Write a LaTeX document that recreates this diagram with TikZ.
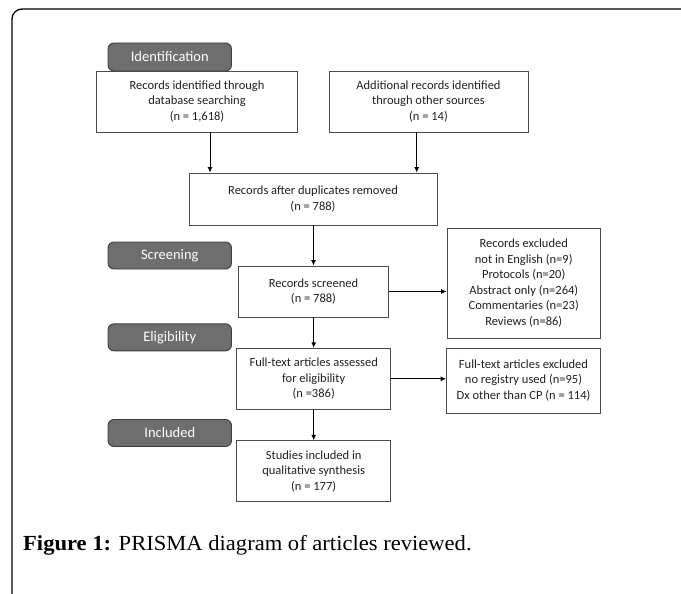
\documentclass[tikz,border=0pt]{standalone}
\usepackage{fontspec}
\setmainfont{Liberation Serif}
\newfontfamily\boxfont{Carlito}
\newfontfamily\capfont[FakeStretch=1.05]{Liberation Serif}
\usetikzlibrary{arrows.meta}
\definecolor{tabgray}{HTML}{6E6E6E}
\definecolor{tabedge}{HTML}{3C3C3C}
\definecolor{boxedge}{HTML}{4A4A4A}
\definecolor{txt}{HTML}{222222}
\tikzset{
  flowbox/.style={draw=boxedge, line width=0.9pt, fill=white, align=center, inner sep=2pt,
    font=\boxfont\fontsize{12.5}{15.5}\selectfont, text=txt},
  phasetab/.style={draw=tabedge, line width=0.9pt, fill=tabgray, rounded corners=6pt,
    minimum width=123.5pt, text=white, font=\boxfont\fontsize{14.5}{16}\selectfont},
  arr/.style={draw=black, line width=0.9pt, -{Latex[length=5.5pt,width=5pt]}}
}
\begin{document}
\begin{tikzpicture}[x=1pt,y=-1pt]
\useasboundingbox (0,0) rectangle (681,594);
% outer frame
\draw[line width=1.3pt, rounded corners=10pt] (12,594) -- (12,9) -- (690,9);
% phase tabs
\node[phasetab, minimum height=28pt] (tid) at (169.75,57) {Identification};
\node[phasetab, minimum height=27pt] (tsc) at (169.75,255.5) {Screening};
\node[phasetab, minimum height=27pt] (tel) at (169.75,337.3) {Eligibility};
\node[phasetab, minimum height=27pt] (tin) at (169.75,433) {Included};
% boxes
\node[flowbox, minimum width=201pt, minimum height=61pt] (b1) at (197,101.5)
  {Records identified through\\database searching\\(n = 1,618)};
\node[flowbox, minimum width=199pt, minimum height=61pt] (b2) at (428.5,101.5)
  {Additional records identified\\through other sources\\(n = 14)};
\node[flowbox, minimum width=248pt, minimum height=52pt] (b3) at (313,199)
  {Records after duplicates removed\\(n = 788)};
\node[flowbox, minimum width=150pt, minimum height=51pt] (b4) at (313.5,291.5)
  {Records screened\\(n = 788)};
\node[flowbox, minimum width=153.5pt, minimum height=110pt] (e1) at (523.75,283)
  {Records excluded\\not in English (n=9)\\Protocols (n=20)\\Abstract only (n=264)\\Commentaries (n=23)\\Reviews (n=86)};
\node[flowbox, minimum width=154pt, minimum height=61pt] (b5) at (313.7,378.8)
  {Full-text articles assessed\\for eligibility\\(n =386)};
\node[flowbox, minimum width=154pt, minimum height=65pt] (e2) at (523.5,380.5)
  {Full-text articles excluded\\no registry used (n=95)\\Dx other than CP (n = 114)};
\node[flowbox, minimum width=154pt, minimum height=61pt] (b6) at (313.7,471.2)
  {Studies included in\\qualitative synthesis\\(n = 177)};
% connectors
\coordinate (x1) at (210,0);
\coordinate (x2) at (416.7,0);
\draw[arr] (x1 |- b1.south) -- (x1 |- b3.north);
\draw[arr] (x2 |- b2.south) -- (x2 |- b3.north);
\draw[arr] (b4.north |- b3.south) -- (b4.north);
\draw[arr] (b4.east) -- (b4.east -| e1.west);
\draw[arr] (b5.north |- b4.south) -- (b5.north);
\draw[arr] (b5.east) -- (b5.east -| e2.west);
\draw[arr] (b6.north |- b5.south) -- (b6.north);
% caption
\node[anchor=base west, inner sep=0pt, font=\capfont\fontsize{21.5}{24}\selectfont] (cap) at (23,550)
  {\textbf{Figure 1:} PRISMA diagram of articles reviewed.};
\end{tikzpicture}
\end{document}
